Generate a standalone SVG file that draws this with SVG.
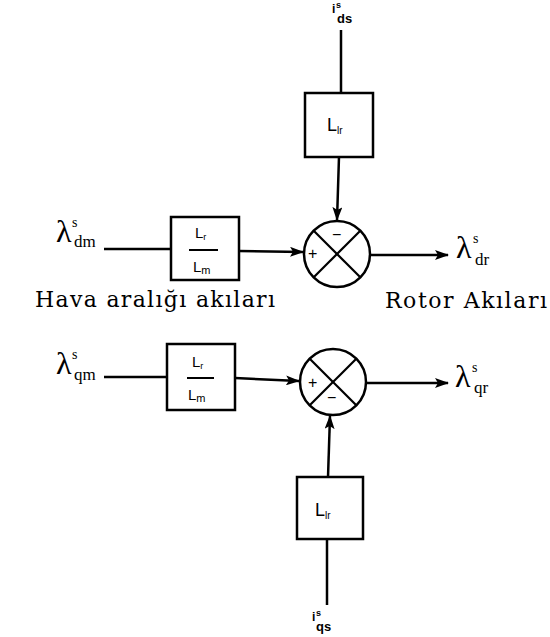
<svg xmlns="http://www.w3.org/2000/svg" width="550" height="637" viewBox="0 0 550 637">
  <style>
    .ln { stroke: #000; stroke-width: 2.5; fill: none; }
    .box { stroke: #000; stroke-width: 2.5; fill: #fff; }
    .sum { stroke: #000; stroke-width: 2.5; fill: #fff; }
    .x { stroke: #000; stroke-width: 2.2; }
    .serif { font-family: "Liberation Serif", "Times New Roman", serif; fill: #000; }
    .cap { font-family: "DejaVu Serif", "Liberation Serif", serif; font-size: 22px; fill: #000; }
    .sans { font-family: "Liberation Sans", Arial, sans-serif; fill: #000; }
    .cur { font-family: "Liberation Sans", Arial, sans-serif; font-weight: bold; fill: #000; }
    .sign { font-family: "Liberation Sans", Arial, sans-serif; font-size: 16px; fill: #000; }
    .lam { font-size: 32px; }
    .sup { font-size: 14px; }
    .sub { font-size: 17px; }
  </style>
  <defs>
    <marker id="arr" viewBox="0 0 14 10" refX="13" refY="5" markerWidth="14" markerHeight="10" markerUnits="userSpaceOnUse" orient="auto">
      <path d="M0,0 L14,5 L0,10 L3,5 Z" fill="#000"/>
    </marker>
  </defs>
  <rect width="550" height="637" fill="#fff"/>

  <!-- connectors -->
  <g id="connectors">
    <line class="ln" x1="341" y1="30" x2="341" y2="93"/>
    <line class="ln" x1="339" y1="157" x2="337" y2="220" marker-end="url(#arr)"/>
    <line class="ln" x1="104" y1="249" x2="171" y2="249"/>
    <line class="ln" x1="239" y1="251" x2="303" y2="252" marker-end="url(#arr)"/>
    <line class="ln" x1="370" y1="255" x2="448" y2="255" marker-end="url(#arr)"/>

    <line class="ln" x1="104" y1="377" x2="167" y2="377"/>
    <line class="ln" x1="235" y1="378" x2="299" y2="381" marker-end="url(#arr)"/>
    <line class="ln" x1="366" y1="383" x2="448" y2="383" marker-end="url(#arr)"/>
    <line class="ln" x1="328" y1="477" x2="330" y2="416" marker-end="url(#arr)"/>
    <line class="ln" x1="327" y1="539" x2="327" y2="605"/>
  </g>

  <!-- d-axis current gain -->
  <g id="Llr_d">
    <rect class="box" x="305" y="93" width="68" height="64"/>
    <text class="sans" x="327" y="131" font-size="18">L<tspan font-size="10" dy="3">lr</tspan></text>
  </g>

  <!-- d-axis ratio block -->
  <g id="ratio_d">
    <rect class="box" x="171" y="217" width="68" height="63"/>
    <text class="sans" x="195" y="238" font-size="15">L<tspan font-size="9" dy="2">r</tspan></text>
    <line x1="189" y1="250" x2="218" y2="250" stroke="#000" stroke-width="2"/>
    <text class="sans" x="193" y="272" font-size="15">L<tspan font-size="11" dy="2">m</tspan></text>
  </g>

  <!-- d-axis summing junction -->
  <g id="sum_d">
    <circle class="sum" cx="337" cy="254" r="33"/>
    <line class="x" x1="313.7" y1="230.7" x2="360.3" y2="277.3"/>
    <line class="x" x1="360.3" y1="230.7" x2="313.7" y2="277.3"/>
    <text class="sign" x="332" y="240">−</text>
    <text class="sign" x="308" y="259">+</text>
  </g>

  <!-- q-axis ratio block -->
  <g id="ratio_q">
    <rect class="box" x="167" y="344" width="68" height="66"/>
    <text class="sans" x="192" y="367" font-size="15">L<tspan font-size="9" dy="2">r</tspan></text>
    <line x1="187" y1="378" x2="214" y2="378" stroke="#000" stroke-width="2"/>
    <text class="sans" x="188" y="400" font-size="15">L<tspan font-size="11" dy="2">m</tspan></text>
  </g>

  <!-- q-axis summing junction -->
  <g id="sum_q">
    <circle class="sum" cx="333" cy="382" r="33"/>
    <line class="x" x1="309.7" y1="358.7" x2="356.3" y2="405.3"/>
    <line class="x" x1="356.3" y1="358.7" x2="309.7" y2="405.3"/>
    <text class="sign" x="308" y="388">+</text>
    <text class="sign" x="327" y="403">−</text>
  </g>

  <!-- q-axis current gain -->
  <g id="Llr_q">
    <rect class="box" x="297" y="477" width="66" height="62"/>
    <text class="sans" x="315" y="516" font-size="18">L<tspan font-size="10" dy="3">lr</tspan></text>
  </g>

  <!-- stator current inputs -->
  <g id="i_ds">
    <text class="cur" x="332" y="13" font-size="12">i</text>
    <text class="cur" x="336" y="8" font-size="9">s</text>
    <text class="cur" x="337" y="23" font-size="13">ds</text>
  </g>
  <g id="i_qs">
    <text class="cur" x="312" y="621" font-size="12">i</text>
    <text class="cur" x="316" y="616" font-size="9">s</text>
    <text class="cur" x="316" y="631" font-size="13">qs</text>
  </g>

  <!-- air-gap flux inputs -->
  <g id="lambda_dm">
    <text class="serif lam" x="56" y="242">λ</text>
    <text class="serif sup" x="72" y="227">s</text>
    <text class="serif sub" x="74" y="247">dm</text>
  </g>
  <g id="lambda_qm">
    <text class="serif lam" x="56" y="374">λ</text>
    <text class="serif sup" x="72" y="359">s</text>
    <text class="serif sub" x="74" y="380">qm</text>
  </g>

  <!-- rotor flux outputs -->
  <g id="lambda_dr">
    <text class="serif lam" x="456" y="258">λ</text>
    <text class="serif sup" x="473" y="243">s</text>
    <text class="serif sub" x="475" y="265">dr</text>
  </g>
  <g id="lambda_qr">
    <text class="serif lam" x="455" y="387">λ</text>
    <text class="serif sup" x="472" y="372">s</text>
    <text class="serif sub" x="474" y="393">qr</text>
  </g>

  <!-- group captions -->
  <text class="cap" x="35" y="307" textLength="240" lengthAdjust="spacing">Hava  aralığı  akıları</text>
  <text class="cap" x="385" y="308" textLength="162" lengthAdjust="spacing">Rotor  Akıları</text>
</svg>
